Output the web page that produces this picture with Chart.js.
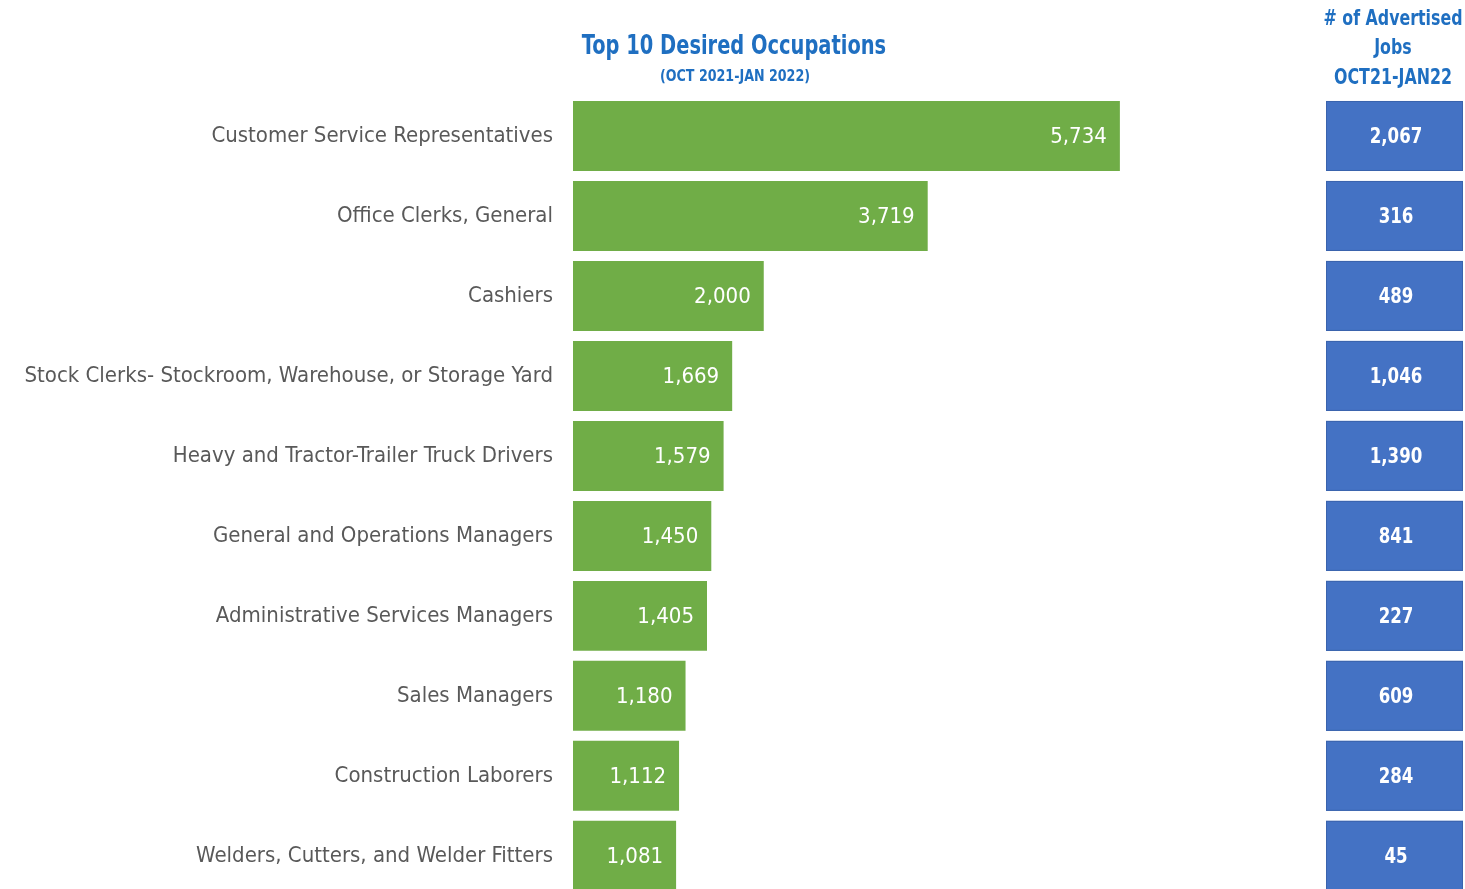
<!DOCTYPE html>
<html>
<head>
<meta charset="utf-8">
<script src="https://cdn.jsdelivr.net/npm/chart.js@4"></script>
<style>
    html, body { margin: 0; padding: 0; background: #fff; overflow: hidden; }
</style>
</head>
<body>
<canvas id="occ-chart" width="1465" height="921"></canvas>
<script>
const occupations = [
    'Customer Service Representatives',
    'Office Clerks, General',
    'Cashiers',
    'Stock Clerks- Stockroom, Warehouse, or Storage Yard',
    'Heavy and Tractor-Trailer Truck Drivers',
    'General and Operations Managers',
    'Administrative Services Managers',
    'Sales Managers',
    'Construction Laborers',
    'Welders, Cutters, and Welder Fitters'
];
const desiredCounts = [5734, 3719, 2000, 1669, 1579, 1450, 1405, 1180, 1112, 1081];
const advertisedJobs = [2067, 316, 489, 1046, 1390, 841, 227, 609, 284, 45];
const chartTitle = 'Top 10 Desired Occupations';
const chartSubtitle = '(OCT 2021-JAN 2022)';
const jobsHeader = ['# of Advertised', 'Jobs', 'OCT21-JAN22'];

const FONT = "'DejaVu Sans Condensed', 'Liberation Sans', Arial, sans-serif";
const BLUE_TEXT = '#1f6fc1';
const fmt = (v) => v.toLocaleString('en-US');

// condensed look: squeeze text horizontally around its anchor
function squeezeText(ctx, text, x, y, sx) {
    ctx.save();
    ctx.translate(x, y);
    ctx.scale(sx, 1);
    ctx.fillText(text, 0, 0);
    ctx.restore();
}

// headings, value labels inside green bars + the advertised jobs column
const sidePlugin = {
    id: 'sideColumn',
    afterDatasetsDraw(chart) {
        const ctx = chart.ctx;
        const meta = chart.getDatasetMeta(0);
        const yScale = chart.scales.y;
        ctx.save();
        ctx.textBaseline = 'middle';

        // headings
        ctx.fillStyle = BLUE_TEXT;
        ctx.textAlign = 'center';
        ctx.font = `bold 27px ${FONT}`;
        squeezeText(ctx, chartTitle, 734, 47, 0.8);
        ctx.font = `bold 16px ${FONT}`;
        squeezeText(ctx, chartSubtitle, 735, 77, 0.88);
        ctx.font = `bold 22px ${FONT}`;
        jobsHeader.forEach((t, i) => {
            squeezeText(ctx, t, 1393, 19 + i * 29.5, 0.8);
        });

        // value labels
        ctx.fillStyle = '#ffffff';
        ctx.font = `22px ${FONT}`;
        ctx.textAlign = 'right';
        meta.data.forEach((bar, i) => {
            ctx.fillText(fmt(desiredCounts[i]), bar.x - 13, bar.y + 1);
        });

        // blue cells
        ctx.textAlign = 'center';
        advertisedJobs.forEach((v, i) => {
            const yc = yScale.getPixelForValue(i);
            const h = 70;
            ctx.fillStyle = '#4472c4';
            ctx.fillRect(1326, yc - h / 2, 137, h);
            ctx.strokeStyle = '#3a63ad';
            ctx.lineWidth = 1;
            ctx.strokeRect(1326.5, yc - h / 2 + 0.5, 136, h - 1);
            ctx.fillStyle = '#ffffff';
            ctx.font = `bold 21px ${FONT}`;
            squeezeText(ctx, fmt(v), 1396, yc + 2, 0.88);
        });
        ctx.restore();
    }
};

const chart = new Chart(document.getElementById('occ-chart'), {
    type: 'bar',
    data: {
        labels: occupations,
        datasets: [{
            data: desiredCounts,
            backgroundColor: '#70ad47',
            borderWidth: 0,
            barPercentage: 0.875,
            categoryPercentage: 1
        }]
    },
    options: {
        indexAxis: 'y',
        responsive: false,
        animation: false,
        layout: {
            padding: { left: 0, right: 129, top: 96, bottom: 5 }
        },
        plugins: {
            legend: { display: false },
            tooltip: { enabled: false },
            title: { display: false }
        },
        scales: {
            x: {
                display: false,
                min: 0,
                max: 8000
            },
            y: {
                grid: { display: false },
                border: { display: false },
                ticks: {
                    color: '#595959',
                    padding: 12,
                    font: { family: FONT, size: 22 }
                },
                afterFit: (scale) => { scale.width = 573; }
            }
        }
    },
    plugins: [sidePlugin]
});
</script>
</body>
</html>
